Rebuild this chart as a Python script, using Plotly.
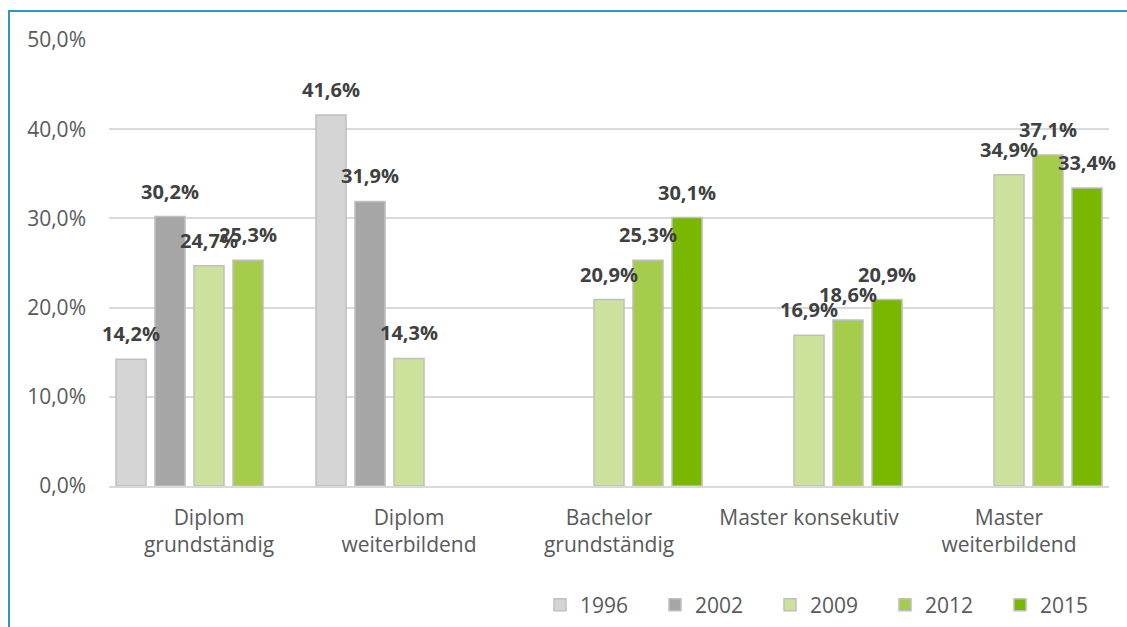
import plotly.graph_objects as go

categories = ["Diplom<br>grundständig", "Diplom<br>weiterbildend", "Bachelor<br>grundständig",
              "Master konsekutiv", "Master<br>weiterbildend"]
years = ["1996", "2002", "2009", "2012", "2015"]
v1996 = [14.2, 41.6, None, None, None]
v2002 = [30.2, 31.9, None, None, None]
v2009 = [24.7, 14.3, 20.9, 16.9, 34.9]
v2012 = [25.3, None, 25.3, 18.6, 37.1]
v2015 = [None, None, 30.1, 20.9, 33.4]
series = [v1996, v2002, v2009, v2012, v2015]
colors = ["#D4D5D4", "#A5A6A5", "#CCE29C", "#A5CC4D", "#7AB800"]

W, H = 1127, 627
ML, MR, MT, MB = 109, 18, 40, 141
plot_w = W - ML - MR
plot_h = H - MT - MB
bargap = 0.025
bargroupgap = 0.23
slot_px = plot_w / len(categories) * (1 - bargap) / len(series)

font_family = "Open Sans"
fig = go.Figure()
for name, vals, col in zip(years, series, colors):
    fig.add_trace(go.Bar(
        x=categories, y=vals, name=name,
        marker=dict(color=col, line=dict(color="#BFBFBF", width=1.5)),
        hoverinfo="skip",
    ))

annotations = []
n = len(series)
for i, vals in enumerate(series):
    for cat, v in zip(categories, vals):
        if v is None:
            continue
        annotations.append(dict(
            x=cat, y=v, xref="x", yref="y",
            text=f"{v:.1f}".replace(".", ",") + "%",
            showarrow=False, yanchor="bottom", xanchor="center",
            xshift=(i - (n - 1) / 2) * slot_px, yshift=10,
            font=dict(family=font_family, size=20, color="#404040", weight="bold"),
        ))

# outer frame (top and left edges visible; right/bottom edges beyond the canvas)
shapes = [
    dict(type="rect", xref="paper", yref="paper",
         x0=(9 - ML) / plot_w, x1=(W + 20 - ML) / plot_w,
         y0=-(MB + 20) / plot_h, y1=(MT + plot_h - 11) / plot_h,
         line=dict(color="#2E97BF", width=2), fillcolor="rgba(0,0,0,0)", layer="above"),
]

fig.update_layout(
    width=W, height=H,
    margin=dict(l=ML, r=MR, t=MT, b=MB),
    paper_bgcolor="white", plot_bgcolor="white",
    barmode="group", bargap=bargap, bargroupgap=bargroupgap,
    separators=",.",
    font=dict(family=font_family, size=21, color="#595959"),
    annotations=annotations,
    shapes=shapes,
    showlegend=True,
    legend=dict(orientation="h", xref="container", yref="container",
                x=540 / W, xanchor="left",
                y=1 - 605 / H, yanchor="middle",
                entrywidth=70, entrywidthmode="pixels",
                font=dict(family=font_family, size=21, color="#595959"),
                traceorder="normal"),
    xaxis=dict(range=[-0.5, len(categories) - 0.5], showgrid=False, showline=True,
               linecolor="#D9D9D9", linewidth=1.5,
               ticks="", tickfont=dict(size=21, color="#595959"), ticklabelstandoff=12),
    yaxis=dict(range=[0, 50], dtick=10, tickformat=".1f", ticksuffix="%",
               showgrid=True, gridcolor="#D9D9D9", gridwidth=1.5,
               zeroline=False, showline=False, ticks="",
               tickfont=dict(size=21, color="#595959"), ticklabelstandoff=22),
)

fig.write_html("out.html", config={"displayModeBar": False},
               post_script="document.body.style.margin='0';")
